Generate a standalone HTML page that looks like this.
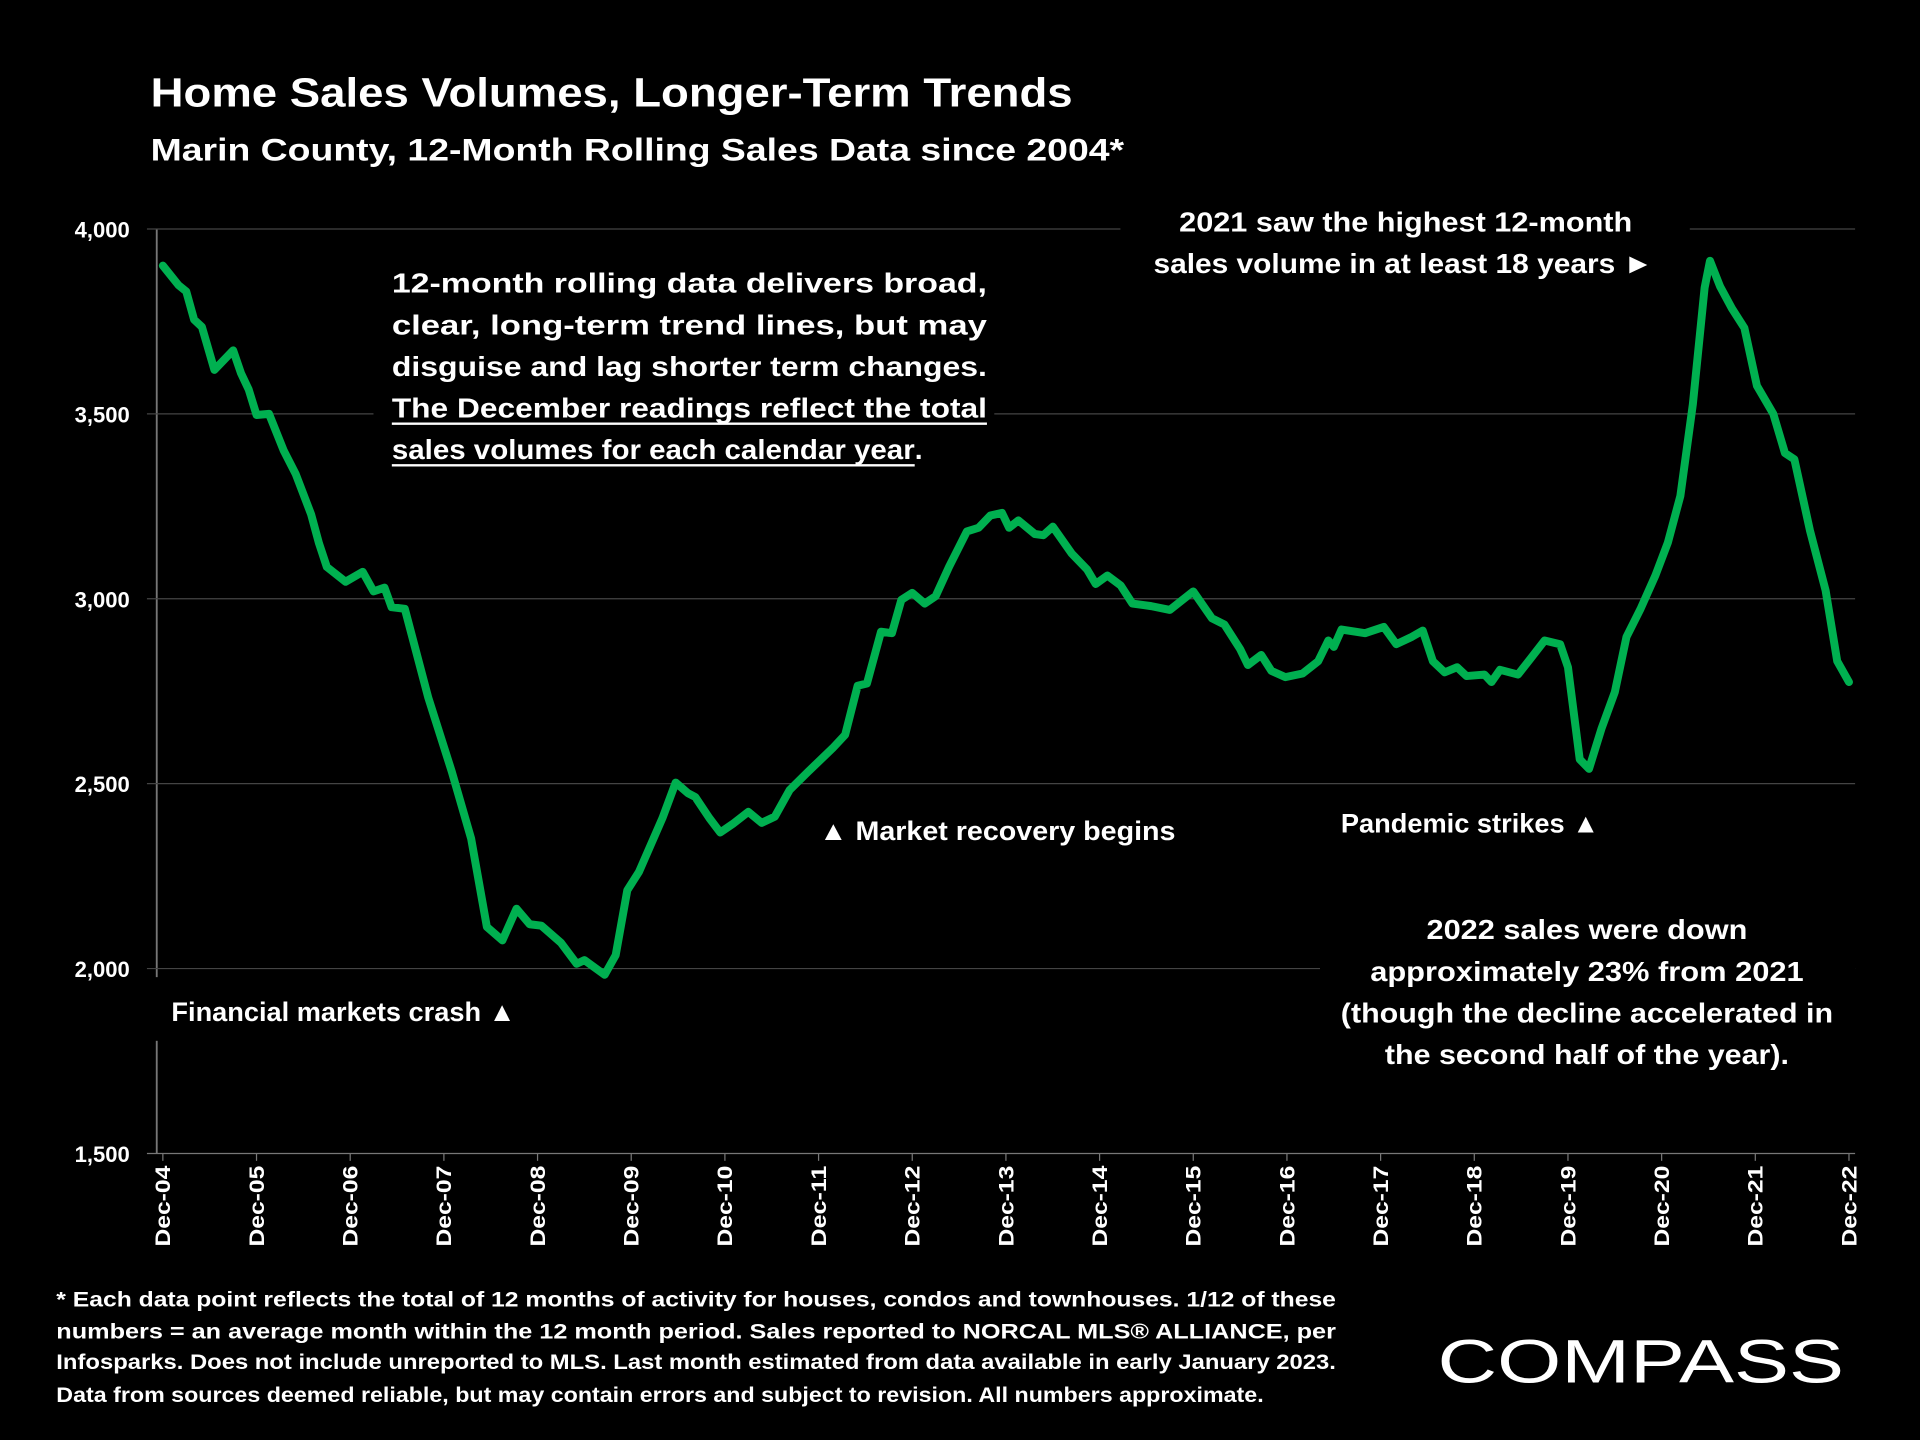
<!DOCTYPE html>
<html><head><meta charset="utf-8"><style>
html,body{margin:0;padding:0;background:#000;}
svg{display:block;}
text{font-family:"Liberation Sans",sans-serif;font-weight:bold;fill:#fff;}
</style></head><body>
<svg id="chart" width="1920" height="1440" viewBox="0 0 1568 1176" xmlns="http://www.w3.org/2000/svg">
<rect width="1568" height="1176" fill="#000"/>
<text x="123" y="87" font-size="33" textLength="753" lengthAdjust="spacingAndGlyphs">Home Sales Volumes, Longer-Term Trends</text>
<text x="123" y="131" font-size="26" textLength="795" lengthAdjust="spacingAndGlyphs">Marin County, 12-Month Rolling Sales Data since 2004*</text>
<g id="grid"></g>
<g id="yticks"></g>
<g id="xticks"></g>
<g id="masks">
<rect x="305" y="205" width="507" height="182" fill="#000"/>
<rect x="915" y="160" width="465" height="75" fill="#000"/>
<rect x="1078" y="735" width="437" height="148" fill="#000"/>
<rect x="125" y="798" width="310" height="52" fill="#000"/>
</g>
<path id="series" fill="none" stroke="#00b050" stroke-width="6.5" stroke-linejoin="round" stroke-linecap="round"/>
<g font-size="23">
<text x="320" y="239" textLength="486" lengthAdjust="spacingAndGlyphs">12-month  rolling  data  delivers  broad,</text>
<text x="320" y="273" textLength="486" lengthAdjust="spacingAndGlyphs">clear,  long-term  trend  lines,  but  may</text>
<text x="320" y="307" textLength="486" lengthAdjust="spacingAndGlyphs">disguise  and  lag  shorter  term  changes.</text>
<text x="320" y="341" textLength="486" lengthAdjust="spacingAndGlyphs">The  December  readings  reflect  the  total</text>
<text x="320" y="375" textLength="427" lengthAdjust="spacingAndGlyphs">sales volumes for each calendar year</text>
<text x="747" y="375">.</text>
<line x1="320" y1="346" x2="806" y2="346" stroke="#fff" stroke-width="2"/>
<line x1="320" y1="380" x2="747" y2="380" stroke="#fff" stroke-width="2"/>
</g>
<g font-size="23">
<text x="1148" y="189" text-anchor="middle" textLength="370" lengthAdjust="spacingAndGlyphs">2021 saw the highest 12-month</text>
<text x="942" y="223" textLength="408" lengthAdjust="spacingAndGlyphs">sales volume in at least 18 years ►</text>
</g>
<text x="669" y="686" font-size="22" textLength="291" lengthAdjust="spacingAndGlyphs">▲  Market recovery begins</text>
<text x="1095" y="680" font-size="22" textLength="211" lengthAdjust="spacingAndGlyphs">Pandemic strikes ▲</text>
<text x="140" y="834" font-size="22" textLength="281" lengthAdjust="spacingAndGlyphs">Financial markets crash ▲</text>
<g font-size="23" text-anchor="middle">
<text x="1296" y="767" textLength="262" lengthAdjust="spacingAndGlyphs">2022 sales were down</text>
<text x="1296" y="801" textLength="354" lengthAdjust="spacingAndGlyphs">approximately 23% from 2021</text>
<text x="1296" y="835" textLength="402" lengthAdjust="spacingAndGlyphs">(though the decline accelerated in</text>
<text x="1296" y="869" textLength="330" lengthAdjust="spacingAndGlyphs">the second half of the year).</text>
</g>
<g font-size="17.5">
<text x="46" y="1067" textLength="1045" lengthAdjust="spacingAndGlyphs">* Each data point reflects the total of 12 months of activity for houses, condos and townhouses. 1/12 of these</text>
<text x="46" y="1093" textLength="1045" lengthAdjust="spacingAndGlyphs">numbers = an average month within the 12 month period. Sales reported to NORCAL MLS® ALLIANCE, per</text>
<text x="46" y="1118" textLength="1045" lengthAdjust="spacingAndGlyphs">Infosparks. Does not include unreported to MLS. Last month estimated from data available in early January 2023.</text>
<text x="46" y="1145" textLength="986" lengthAdjust="spacingAndGlyphs">Data from sources deemed reliable, but may contain errors and subject to revision. All numbers approximate.</text>
</g>
<text x="1174" y="1129" font-size="50" style="font-weight:normal" textLength="332" lengthAdjust="spacingAndGlyphs">COMPASS</text>
</svg>
<script>
const yTicks = [1500, 2000, 2500, 3000, 3500, 4000];
const xLabels = ["Dec-04","Dec-05","Dec-06","Dec-07","Dec-08","Dec-09","Dec-10","Dec-11","Dec-12","Dec-13","Dec-14","Dec-15","Dec-16","Dec-17","Dec-18","Dec-19","Dec-20","Dec-21","Dec-22"];
const monthIdx = [0,2,3,4,5,6.6,9,10,11,12,13.6,15.5,17,19,20,21,23.4,25.6,27,28.4,29.3,31,34,37,39.5,41.5,43.5,45.3,47,48.5,51,53,54,56.6,58,59.5,61,64,65.7,67.3,68.2,70,71.4,73,75,76.7,78.4,80.3,82.7,85.8,87.4,89,90.2,92,93.4,94.6,96,97.6,99,100.7,103,104.5,106,107.5,108.4,109.6,111.7,112.8,114,116.4,118.4,119.5,121,122.7,124.2,126.6,129,132,134.4,136,138,139,140.7,142,143.8,146,148,149.3,150,151,154,156.4,158,160,161.4,162.7,164.2,165.8,167,169.3,170.2,171.3,173.6,175.2,177,179,180,181.5,182.7,184.3,186,187.5,189.3,191.2,192.8,194.4,196,197.5,198.2,199.5,201,202.6,204.2,206.3,207.8,209,211,213,214.5,216];
const sales = [3901,3848,3831,3755,3735,3619,3672,3610,3566,3497,3500,3400,3338,3228,3150,3086,3046,3073,3020,3030,2977,2973,2732,2533,2351,2113,2076,2162,2120,2116,2070,2013,2023,1983,2036,2212,2262,2407,2503,2474,2464,2407,2368,2391,2424,2394,2411,2483,2533,2596,2632,2765,2771,2911,2907,2997,3016,2987,3007,3086,3182,3192,3225,3232,3192,3212,3175,3172,3195,3123,3079,3040,3063,3036,2987,2980,2970,3020,2947,2930,2864,2821,2848,2805,2788,2798,2831,2887,2870,2917,2907,2924,2877,2897,2914,2831,2801,2815,2791,2795,2775,2808,2795,2838,2887,2877,2815,2566,2540,2649,2748,2897,2973,3063,3152,3278,3526,3841,3914,3844,3785,3732,3576,3500,3394,3377,3185,3023,2831,2775];
const NS='http://www.w3.org/2000/svg';
const x0=133, x1=1510, y0=942, y1=187;
function xScale(m){return x0+(x1-x0)*m/216;}
function yScale(v){return y0-(y0-y1)*(v-1500)/2500;}
const grid=document.getElementById('grid'), yt=document.getElementById('yticks'), xt=document.getElementById('xticks');
const axis=document.createElementNS(NS,'line');


axis.setAttribute('x1',128);axis.setAttribute('x2',128);axis.setAttribute('y1',yScale(4000));axis.setAttribute('y2',yScale(1500));
axis.setAttribute('stroke','#777');axis.setAttribute('stroke-width','1.5');grid.appendChild(axis);
yTicks.forEach(v=>{
  const l=document.createElementNS(NS,'line');
  
  
  l.setAttribute('x1',120);l.setAttribute('x2',1515);l.setAttribute('y1',yScale(v));l.setAttribute('y2',yScale(v));
  l.setAttribute('stroke',v===1500?'#777':'#444');l.setAttribute('stroke-width','1');grid.appendChild(l);
  const t=document.createElementNS(NS,'text');
  
  
  t.setAttribute('x',106);t.setAttribute('y',yScale(v)+7);t.setAttribute('text-anchor','end');t.setAttribute('font-size','18');
  t.textContent=v.toLocaleString('en-US');yt.appendChild(t);
});
xLabels.forEach((s,i)=>{
  const x=xScale(i*12);
  const tk=document.createElementNS(NS,'line');
  
  
  tk.setAttribute('x1',x);tk.setAttribute('x2',x);tk.setAttribute('y1',942);tk.setAttribute('y2',948);tk.setAttribute('stroke','#777');xt.appendChild(tk);
  const t=document.createElementNS(NS,'text');
  
  
  t.setAttribute('transform','translate('+(x+6)+',952) rotate(-90)');t.setAttribute('text-anchor','end');t.setAttribute('font-size','17');
  t.setAttribute('textLength','66');t.setAttribute('lengthAdjust','spacingAndGlyphs');
  t.textContent=s;xt.appendChild(t);
});
let d='';
monthIdx.forEach((m,i)=>{d+=(i?'L':'M')+xScale(m).toFixed(1)+','+yScale(sales[i]).toFixed(1);});
document.getElementById('series').setAttribute('d',d);
</script>
</body></html>
